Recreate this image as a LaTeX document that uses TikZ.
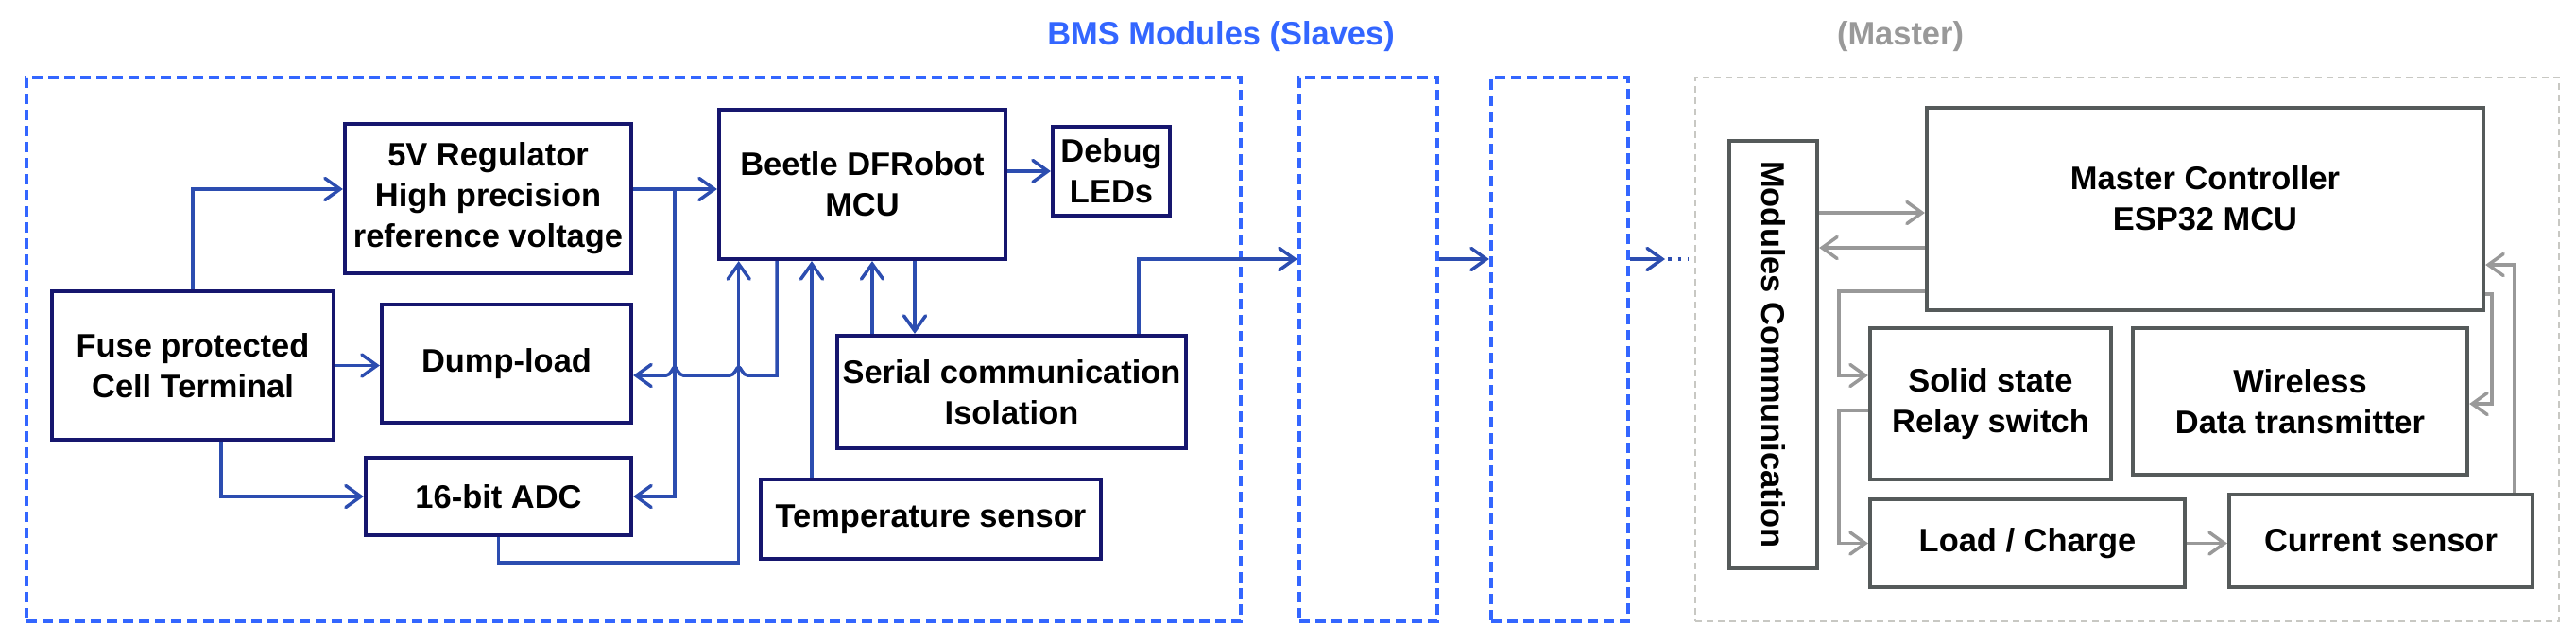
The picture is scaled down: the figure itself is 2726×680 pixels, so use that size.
\documentclass[tikz,border=0pt]{standalone}
\usepackage{fontspec}
\setmainfont{Liberation Sans}
\usepackage{tikz}
\usetikzlibrary{arrows.meta}
\definecolor{navyx}{HTML}{16166E}
\definecolor{linkx}{HTML}{2C4DB0}
\definecolor{dashx}{HTML}{3366FF}
\definecolor{greybox}{HTML}{555A5A}
\definecolor{greyln}{HTML}{999999}
\definecolor{greydash}{HTML}{C8C8C3}
\tikzset{
  txt/.style={font=\fontsize{9.8}{12.2}\selectfont\bfseries,align=center},
  blk/.style={txt,draw=navyx,line width=1.2pt,inner sep=0pt},
  mblk/.style={txt,draw=greybox,line width=1.2pt,inner sep=0pt},
  slave/.style={draw=dashx,line width=1.2pt,dash pattern=on 1.1mm off 0.6mm,inner sep=0pt},
  masterbox/.style={draw=greydash,line width=0.7pt,dash pattern=on 0.7mm off 0.5mm,inner sep=0pt},
  conn/.style={-{Straight Barb[length=1.6mm,width=2.3mm,line cap=round]},line width=1pt,linkx},
  mconn/.style={-{Straight Barb[length=1.6mm,width=2.3mm,line cap=round]},line width=1pt,greyln}
}
\begin{document}
\begin{tikzpicture}[x=0.1mm,y=-0.1mm]
\useasboundingbox (0,0) rectangle (2726,680);
% module frames
\node[slave,minimum width=128.5mm,minimum height=57.5mm] (mod1) at (670.5,369.5) {};
\node[slave,minimum width=14.6mm,minimum height=57.5mm] (mod2) at (1448,369.5) {};
\node[slave,minimum width=14.5mm,minimum height=57.5mm] (mod3) at (1650.5,369.5) {};
\node[masterbox,minimum width=91.4mm,minimum height=57.5mm] (mframe) at (2251,369.5) {};
\node[txt,text=dashx] (slavetitle) at (1292,39) {BMS Modules (Slaves)};
\node[txt,text=greyln] (mastertitle) at (2011,39) {(Master)};
% slave blocks
\node[blk,minimum width=29.8mm,minimum height=15.7mm] (fuse) at (204,386.5) {Fuse protected\\Cell Terminal};
\node[blk,minimum width=30.3mm,minimum height=15.8mm] (reg) at (516.5,210) {5V Regulator\\High precision\\reference voltage};
\node[blk,minimum width=26.4mm,minimum height=12.5mm] (dump) at (536,384.5) {Dump-load};
\node[blk,minimum width=28.1mm,minimum height=8.2mm] (adc) at (527.5,525) {16-bit ADC};
\node[blk,minimum width=30.3mm,minimum height=15.8mm] (mcu) at (912.5,195) {Beetle DFRobot\\MCU};
\node[blk,minimum width=12.4mm,minimum height=9.4mm] (leds) at (1176,181) {Debug\\LEDs};
\node[blk,minimum width=36.9mm,minimum height=11.9mm] (serial) at (1070.5,414.5) {Serial communication\\Isolation};
\node[blk,minimum width=36mm,minimum height=8.4mm] (temp) at (985,549) {Temperature sensor};
% master blocks
\node[mblk,minimum width=9.3mm,minimum height=45.2mm] (comm) at (1876.5,375) {\rotatebox[origin=c]{-90}{Modules Communication}};
\node[mblk,minimum width=58.9mm,minimum height=21.4mm] (ctrl) at (2333.5,221) {Master Controller\\ESP32 MCU\\[-0.6em]};
\node[mblk,minimum width=25.5mm,minimum height=16mm] (relay) at (2106.5,427) {Solid state\\Relay switch};
\node[mblk,minimum width=35.4mm,minimum height=15.5mm] (wifi) at (2434,424.5) {Wireless\\Data transmitter};
\node[mblk,minimum width=33.3mm,minimum height=9.3mm] (load) at (2145.5,574.5) {Load / Charge};
\node[mblk,minimum width=32.1mm,minimum height=9.8mm] (cur) at (2519.5,572) {Current sensor};
\coordinate (tap) at (714,200);
\coordinate (more) at (1762,274);
% slave links
\draw[conn] (fuse.north) |- ([yshift=1mm]reg.west);
\draw[conn] (fuse.east) -- (fuse.east -| dump.west);
\draw[conn] ([xshift=3mm]fuse.south) |- (adc.west);
\draw[conn] ([yshift=1mm]reg.east) -- ([yshift=1mm]reg.east -| mcu.west);
\draw[conn] (tap) |- (adc.east);
\draw[conn] (822,0 |- mcu.south) -- (822,397) -- (791,397)
  .. controls (786,397) and (784,388) .. (781.7,388) .. controls (779.5,388) and (777.5,397) .. (772.5,397) -- (723,397)
  .. controls (718,397) and (716,388) .. (714,388) .. controls (712,388) and (710,397) .. (705,397) -- (dump.east |- 0,397);
\draw[conn] (adc.south) -- (adc.south |- 0,595) -| (781.7,0 |- mcu.south);
\draw[conn] (859,0 |- temp.north) -- (859,0 |- mcu.south);
\draw[conn] (923,0 |- serial.north) -- (923,0 |- mcu.south);
\draw[conn] (968,0 |- mcu.south) -- (968,0 |- serial.north);
\draw[conn] (leds.west -| mcu.east) -- (leds.west);
\draw[conn] (1205,0 |- serial.north) |- (mod2.west |- more);
\draw[conn] (mod2.east |- more) -- (mod3.west |- more);
\draw[conn] (mod3.east |- more) -- (more);
\draw[linkx,line width=1pt,dotted] ([xshift=0.3mm]more) -- (1787,274);
% master links
\draw[mconn] (comm.east |- 0,225) -- (ctrl.west |- 0,225);
\draw[mconn] (ctrl.west |- 0,262) -- (comm.east |- 0,262);
\draw[mconn] (ctrl.west |- 0,308) -- (1946,308) |- (relay.west |- 0,397);
\draw[mconn] (relay.west |- 0,434) -- (1946,434) |- (load.west);
\draw[mconn] (load.east) -- (load.east -| cur.west);
\draw[mconn] (2661,0 |- cur.north) |- (ctrl.east |- 0,280);
\draw[mconn] (ctrl.east |- 0,311) -- (2637,311) |- (wifi.east |- 0,427);
\end{tikzpicture}
\end{document}
